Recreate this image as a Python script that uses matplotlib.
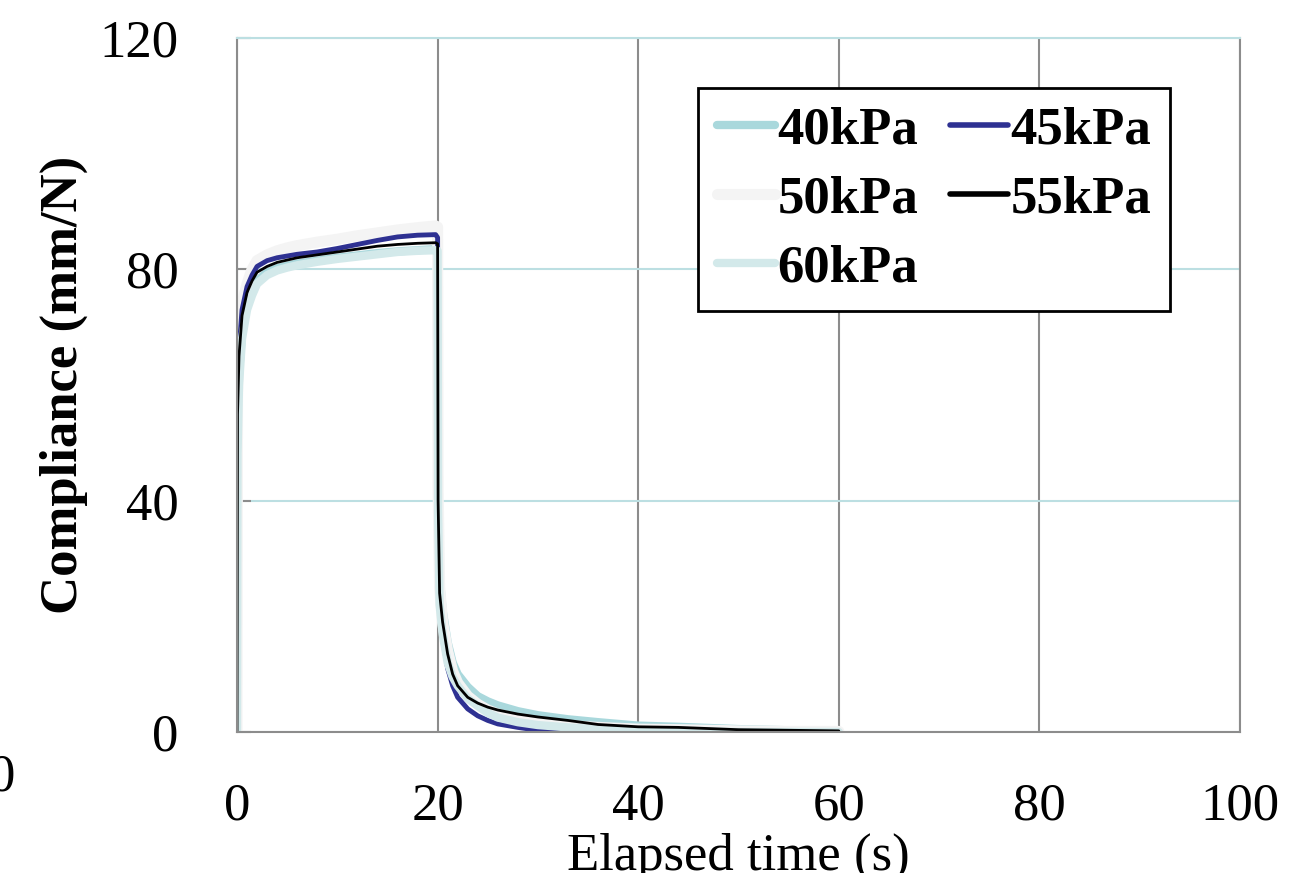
import matplotlib
matplotlib.use("Agg")
import matplotlib.pyplot as plt

# elapsed time (s) sampling points
t = [0, 0.05, 0.2, 0.5, 1, 1.5, 2, 3, 4, 5, 6, 8, 10, 12, 14, 16, 18, 19.8, 20,
     20.05, 20.2, 20.5, 21, 21.5, 22, 23, 24, 25, 26, 28, 30, 33, 36, 40, 44, 50, 55, 60]

# compliance (mm/N) for each pressure
c40 = [0, 50, 62, 69, 74, 76.5, 78, 79.5, 80.2, 80.6, 81, 81.5, 82, 82.4, 82.8, 83.1, 83.3, 83.5, 83.4,
       45, 27, 21, 15.5, 12, 10, 7.8, 6.2, 5.3, 4.6, 3.6, 2.9, 2.2, 1.7, 1.1, 0.9, 0.5, 0.3, 0.2]
c45 = [0, 56, 66, 73, 77, 79, 80.5, 81.5, 82, 82.3, 82.6, 83, 83.6, 84.3, 85, 85.6, 85.9, 86, 85.5,
       40, 22, 16, 11, 8, 6, 4, 2.8, 2, 1.4, 0.8, 0.3, 0, 0, 0, 0, 0, 0.1, 0.1]
c50 = [0, 58, 68, 74, 77.5, 80, 81.5, 82.5, 83.2, 83.7, 84.1, 84.7, 85.2, 85.8, 86.3, 86.8, 87.2, 87.5, 87.3,
       42, 25, 19, 14, 10.5, 8.5, 6.2, 4.8, 3.8, 3.1, 2.2, 1.6, 1.1, 0.8, 0.5, 0.4, 0.2, 0.1, 0.1]
c55 = [0, 55, 65, 72, 76, 78, 79.5, 80.5, 81.2, 81.6, 82, 82.5, 83, 83.5, 84, 84.3, 84.5, 84.6, 84.4,
       40, 24, 19, 13.5, 10, 8, 6, 5, 4.3, 3.8, 3.1, 2.6, 2, 1.3, 0.9, 0.8, 0.4, 0.3, 0.2]
c60 = [0, 48, 60, 68, 73, 75.5, 77.5, 79, 79.8, 80.3, 80.7, 81.3, 81.8, 82.2, 82.6, 83, 83.2, 83.3, 83.2,
       38, 22, 17, 12, 9.5, 8, 5.8, 4.5, 3.3, 2.5, 1.7, 1.2, 0.8, 0.5, 0.2, 0.1, 0, 0, 0]

series = [("40kPa", c40, "#a9d8dc", 6),
          ("45kPa", c45, "#2e3192", 3.5),
          ("50kPa", c50, "#f4f4f4", 8),
          ("55kPa", c55, "#000000", 2),
          ("60kPa", c60, "#d3e9ea", 6)]

plt.rcParams["font.family"] = ["Liberation Serif", "DejaVu Serif"]

fig = plt.figure(figsize=(13.08, 8.73), dpi=100)
ax = fig.add_axes([0.1812, 0.1615, 0.7668, 0.795])

# draw order: the pale 60kPa band sits over the others on the rise
for name, vals, col, lw in [series[0], series[2], series[1], series[4], series[3]]:
    ax.plot(t, vals, color=col, lw=lw, label=name, solid_capstyle="round")

ax.set_xlim(0, 100)
ax.set_ylim(0, 120)
ax.set_xticks([0, 20, 40, 60, 80, 100])
ax.set_yticks([0, 40, 80, 120])

ax.xaxis.grid(True, color="#8c8c8c", lw=1.5)
ax.yaxis.grid(True, color="#bcdfe2", lw=1.5)
ax.set_axisbelow(True)

for s in ["left", "bottom"]:
    ax.spines[s].set_color("#8c8c8c")
    ax.spines[s].set_linewidth(1.5)
ax.spines["top"].set_color("#bcdfe2")
ax.spines["right"].set_color("#8c8c8c")
ax.spines["top"].set_linewidth(1.5)
ax.spines["right"].set_linewidth(1.5)

ax.tick_params(axis="y", direction="in", length=10, width=1.5, color="#8c8c8c",
               labelsize=38, pad=42)
ax.tick_params(axis="x", direction="in", length=0, labelsize=38, pad=36)

ax.set_xlabel("Elapsed time (s)", fontsize=38, labelpad=2)
ax.set_ylabel("Compliance (mm/N)", fontsize=38, fontweight="bold", labelpad=8)

# legend filled row by row: 40 45 / 50 55 / 60
handles, labels = ax.get_legend_handles_labels()
order = [labels.index(n) for n in ["40kPa", "50kPa", "60kPa", "45kPa", "55kPa"]]
leg = ax.legend([handles[i] for i in order], [labels[i] for i in order],
                ncol=2, loc="upper right", bbox_to_anchor=(0.930, 0.928),
                borderaxespad=0, fancybox=False, framealpha=1,
                handlelength=1.1, handletextpad=0.05, columnspacing=0.6,
                labelspacing=0.4, borderpad=0.35,
                prop={"size": 38, "weight": "bold"})
leg.get_frame().set_edgecolor("black")
leg.get_frame().set_linewidth(2)
for line in leg.get_lines():
    line.set_linewidth(max(line.get_linewidth(), 4))

# cut-off label from the neighbouring panel
fig.text(0.012, 0.109, "0", ha="right", va="center", fontsize=38)

fig.savefig("out.png", dpi=100)
